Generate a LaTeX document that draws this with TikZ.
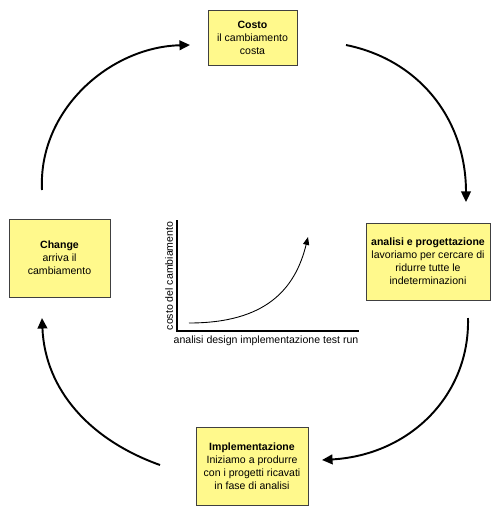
\documentclass[tikz,border=0pt]{standalone}
\usepackage{fontspec}
\setmainfont{Liberation Sans}
\usetikzlibrary{arrows.meta,shadows}
\begin{document}
\begin{tikzpicture}[x=0.02cm,y=-0.02cm,every text node part/.style={align=center},
  box/.style={draw=black!75,fill=yellow!45,line width=0.5pt,inner sep=0pt,
    drop shadow={shadow xshift=0.8pt,shadow yshift=-0.8pt,opacity=0.25},font=\fontsize{6}{7.4}\selectfont},
  ciclo/.style={line width=1.1pt,-{Triangle[length=6pt,width=5.5pt]}},
  lbl/.style={font=\fontsize{6}{7.4}\selectfont}]

\useasboundingbox (0,0) rectangle (500,512);

% le quattro fasi
\node[box,minimum width=1.78cm,minimum height=1.1cm](costo) at (252.5,37.5){\textbf{Costo}\\il cambiamento\\costa};
\node[box,minimum width=2.48cm,minimum height=1.54cm](analisi) at (428,261.5){\textbf{analisi e progettazione}\\lavoriamo per cercare di\\ridurre tutte le\\indeterminazioni};
\node[box,minimum width=2.24cm,minimum height=1.56cm](impl) at (252,466){\textbf{Implementazione}\\Iniziamo a produrre\\con i progetti ricavati\\in fase di analisi};
\node[box,minimum width=2.02cm,minimum height=1.56cm](change) at (59.5,258){\textbf{Change}\\arriva il\\cambiamento};

% estremi delle frecce
\coordinate(a1) at (42,190);  \coordinate(b1) at (190,45);
\coordinate(a2) at (346,45);  \coordinate(b2) at (466,202);
\coordinate(a3) at (468,318); \coordinate(b3) at (322,460);
\coordinate(a4) at (160,465); \coordinate(b4) at (42,318);

\draw[ciclo](a1) .. controls (38,110) and (110,47) .. (b1);
\draw[ciclo](a2) .. controls (420,60) and (466,120) .. (b2);
\draw[ciclo](a3) .. controls (470,395) and (410,455) .. (b3);
\draw[ciclo](a4) .. controls (90,440) and (45,390) .. (b4);

% grafico del costo
\coordinate(top) at (177,220); \coordinate(orig) at (177,331); \coordinate(fine) at (359,331);
\draw[line width=0.9pt](top)--(orig)--(fine);
\coordinate(c0) at (189,323); \coordinate(c1) at (308,237);
\draw[line width=0.5pt,-{Triangle[length=4.5pt,width=3.5pt]}](c0) .. controls (265,323) and (295,290) .. (c1);

\node[lbl,rotate=90](ylab) at (169,276){costo del cambiamento};
\node[lbl](xlab) at (266,341){analisi design implementazione test run};

\end{tikzpicture}
\end{document}
